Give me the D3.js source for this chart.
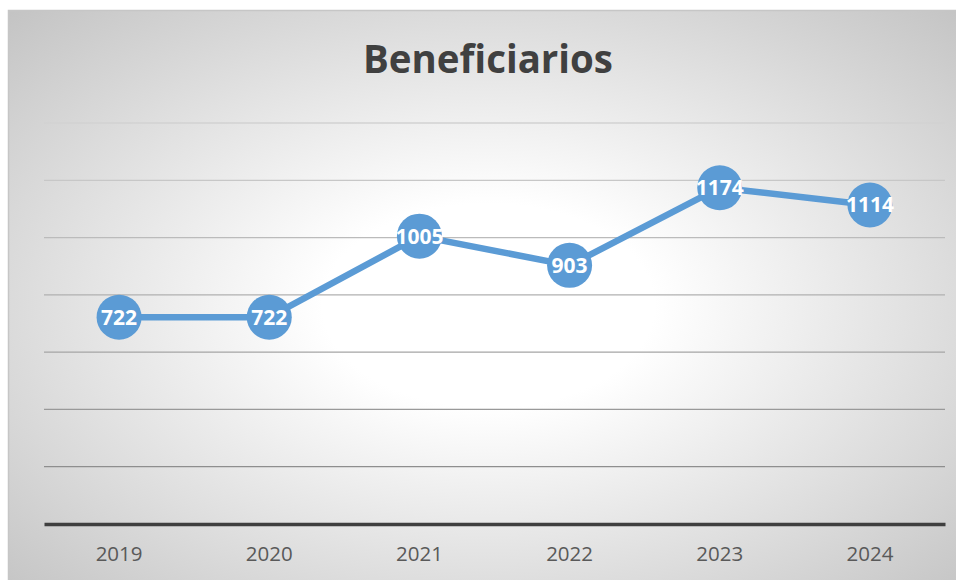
<!DOCTYPE html>
<html>
<head>
<meta charset="utf-8">
<script src="https://cdn.jsdelivr.net/npm/d3@7"></script>
<style>
  html, body { margin: 0; padding: 0; background: #fff; }
  #chart { width: 956px; height: 580px; }
  text { font-family: "Open Sans", "Liberation Sans", sans-serif; }
</style>
</head>
<body>
<div id="chart"></div>
<script>
const YEARS = ["2019", "2020", "2021", "2022", "2023", "2024"];
const BENEFICIARIOS = [722, 722, 1005, 903, 1174, 1114];
const Y_TICKS = [0, 200, 400, 600, 800, 1000, 1200, 1400];
const TITLE = "Beneficiarios";

const LINE_COLOR = "#5b9bd5";

renderChart();

function renderChart() {
  const width = 956;
  const height = 580;
  const plot = { left: 44, right: 945, top: 123, bottom: 524 };

  const svg = d3.select("#chart")
    .append("svg")
    .attr("width", width)
    .attr("height", height);

  const defs = svg.append("defs");
  const bg = defs.append("radialGradient")
    .attr("id", "bg-grad")
    .attr("cx", "50%")
    .attr("cy", "50%")
    .attr("r", "72%");
  bg.append("stop").attr("offset", "0%").attr("stop-color", "#ffffff");
  bg.append("stop").attr("offset", "24%").attr("stop-color", "#ffffff");
  bg.append("stop").attr("offset", "100%").attr("stop-color", "#c2c2c2");

  // chart frame
  svg.append("rect")
    .attr("x", 8.5)
    .attr("y", 10.5)
    .attr("width", 960)
    .attr("height", 590)
    .attr("fill", "url(#bg-grad)")
    .attr("stroke", "#c6c6c6")
    .attr("stroke-width", 1.5);

  const x = d3.scaleBand()
    .domain(YEARS)
    .range([plot.left, plot.right]);

  const y = d3.scaleLinear()
    .domain([0, 1400])
    .range([plot.bottom, plot.top]);

  // gridlines: lighter near the top, darker toward the bottom
  const gridColor = d3.scaleLinear()
    .domain([1400, 200])
    .range(["#d2d2d2", "#8e8e8e"]);

  svg.append("g")
    .selectAll("line")
    .data(Y_TICKS.filter(d => d > 0))
    .enter()
    .append("line")
    .attr("x1", plot.left)
    .attr("x2", plot.right)
    .attr("y1", d => y(d))
    .attr("y2", d => y(d))
    .attr("stroke", d => gridColor(d))
    .attr("stroke-width", 1.3);

  // category axis
  const xAxis = svg.append("g")
    .attr("transform", `translate(0,${y(0)})`)
    .call(d3.axisBottom(x).tickSize(0).tickPadding(22));
  xAxis.select(".domain")
    .attr("stroke", "#3f3f3f")
    .attr("stroke-width", 3.5);
  xAxis.selectAll("text")
    .attr("font-family", "'Open Sans', sans-serif")
    .attr("font-size", 20.5)
    .attr("fill", "#595959");

  const cx = d => x(d) + x.bandwidth() / 2;
  const points = YEARS.map((yr, i) => ({ year: yr, value: BENEFICIARIOS[i] }));

  const line = d3.line()
    .x(d => cx(d.year))
    .y(d => y(d.value));

  svg.append("path")
    .datum(points)
    .attr("fill", "none")
    .attr("stroke", LINE_COLOR)
    .attr("stroke-width", 6.5)
    .attr("stroke-linejoin", "round")
    .attr("d", line);

  svg.selectAll(".marker")
    .data(points)
    .enter()
    .append("circle")
    .attr("class", "marker")
    .attr("cx", d => cx(d.year))
    .attr("cy", d => y(d.value))
    .attr("r", 22.5)
    .attr("fill", LINE_COLOR);

  svg.selectAll(".point-label")
    .data(points)
    .enter()
    .append("text")
    .attr("class", "point-label")
    .attr("x", d => cx(d.year))
    .attr("y", d => y(d.value))
    .attr("dy", "0.36em")
    .attr("text-anchor", "middle")
    .attr("font-size", 21)
    .attr("font-weight", "bold")
    .attr("fill", "#ffffff")
    .text(d => d.value);

  const title = svg.append("text")
    .attr("x", 488)
    .attr("y", 73)
    .attr("text-anchor", "middle")
    .attr("font-size", 36)
    .attr("font-weight", "bold")
    .attr("fill", "#404040")
    .text(TITLE);

  // fit the title to the width seen in the reference
  const w = title.node().getComputedTextLength();
  if (w > 0) title.attr("font-size", 36 * 250 / w);
}
</script>
</body>
</html>
